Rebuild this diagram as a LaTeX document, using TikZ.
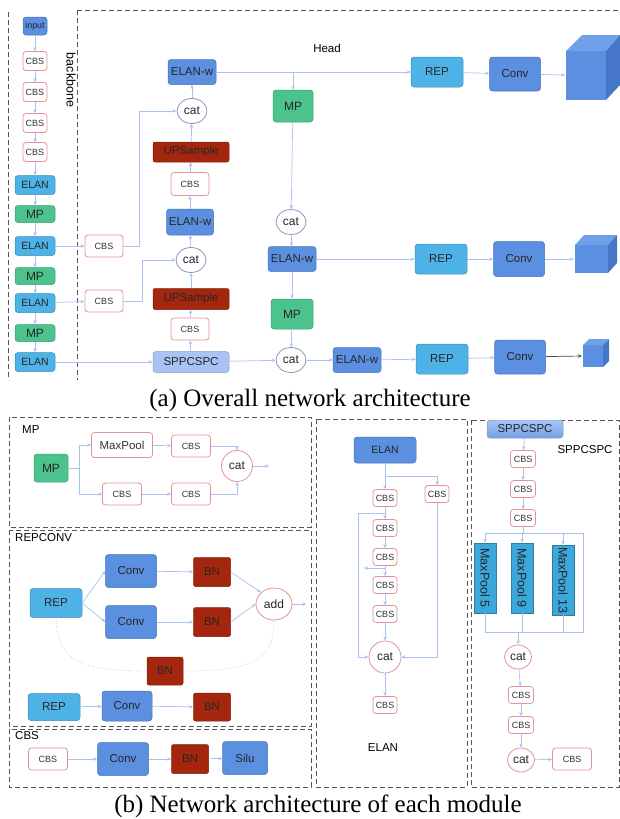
\documentclass[tikz,border=0pt]{standalone}
\usepackage{fontspec}
\setmainfont{Liberation Sans}
\newfontfamily\captionfont{Liberation Serif}
\usetikzlibrary{arrows.meta,shapes.geometric}

\definecolor{conv color}{HTML}{5B8FE0}
\definecolor{elan color}{HTML}{4DB2E6}
\definecolor{mp color}{HTML}{4CC38C}
\definecolor{bn color}{HTML}{A5260F}
\definecolor{cbs color}{HTML}{E8909C}
\definecolor{cat color}{HTML}{8A98B8}
\definecolor{flow color}{HTML}{A8C2F2}
\definecolor{spp color}{HTML}{A9C4F4}
\definecolor{pool color}{HTML}{3BA7DB}
\definecolor{panel color}{HTML}{555555}
\definecolor{cube front}{HTML}{5B8FE0}
\definecolor{cube top}{HTML}{70A0EA}
\definecolor{cube side}{HTML}{4676C8}

\tikzset{
    x={1pt},
    y={-1pt},
    block/.style={
        rectangle, rounded corners={3pt},
        fill={#1}, draw={#1!80!black},
        line width={0.5pt},
        text=black!85,
        font=\fontsize{11.5}{13}\selectfont,
        inner sep=0pt,
    },
    conv box/.style={block=conv color},
    elan box/.style={block=elan color},
    mp box/.style={block=mp color, font=\fontsize{12}{14}\selectfont},
    bn box/.style={block=bn color, rounded corners={2pt}},
    spp box/.style={block=spp color},
    cbs box/.style={
        rectangle, rounded corners={3pt},
        fill=white, draw=cbs color,
        line width={0.8pt},
        text=black!80,
        font=\fontsize{9}{10}\selectfont,
        inner sep=0pt,
    },
    cat node/.style={
        ellipse, fill=white, draw={#1},
        line width={0.8pt},
        text=black!85,
        font=\fontsize{12}{13}\selectfont,
        inner sep=0pt,
    },
    cat node/.default={cat color},
    pool box/.style={
        rectangle, rotate=-90,
        fill=pool color, draw=pool color!75!black,
        line width={0.5pt},
        text=black!85,
        font=\fontsize{12.5}{14}\selectfont,
        inner sep=0pt,
        minimum width={70}, minimum height={22},
    },
    flow/.style={
        draw=flow color,
        line width={0.7pt},
        -{Stealth[length=4pt, width=3.5pt]},
    },
    link/.style={
        draw=flow color,
        line width={0.7pt},
    },
    panel/.style={
        draw=panel color,
        line width={1pt},
        dash pattern=on 5pt off 3pt,
    },
    caption text/.style={
        font=\captionfont\fontsize{25}{30}\selectfont,
        inner sep=0pt,
    },
    title text/.style={
        font=\fontsize{11.5}{13}\selectfont,
        inner sep=0pt,
    },
}

\begin{document}
\begin{tikzpicture}
\useasboundingbox (0,0) rectangle (620,819);
% frames
\draw[panel] (8,12) -- (8,380);
\draw[panel] (77,10) -- (77,380);
\draw[panel] (77,10) -- (620,10);
\draw[panel] (9,417) rectangle (311,527);
\draw[panel] (9,530) rectangle (311,726);
\draw[panel] (9,729) rectangle (311,787);
\draw[panel] (316,419) rectangle (467,787);
\draw[panel] (471,420) rectangle (619,787);
% (a) backbone
\node[conv box, minimum width={24}, minimum height={18}, font=\fontsize{8.8}{10}\selectfont] (in) at (35,26) {input};
\node[cbs box, minimum width={24}, minimum height={19}] (b1) at (35,61) {CBS};
\node[cbs box, minimum width={24}, minimum height={19}] (b2) at (35,92) {CBS};
\node[cbs box, minimum width={24}, minimum height={19}] (b3) at (35,123) {CBS};
\node[cbs box, minimum width={24}, minimum height={19}] (b4) at (35,152) {CBS};
\node[elan box, minimum width={40}, minimum height={19}, font=\fontsize{10.5}{12}\selectfont] (e1) at (35,185) {ELAN};
\node[mp box, minimum width={40}, minimum height={17}] (m1) at (35,214) {MP};
\node[elan box, minimum width={40}, minimum height={19}, font=\fontsize{10.5}{12}\selectfont] (e2) at (35,246) {ELAN};
\node[mp box, minimum width={40}, minimum height={17}] (m2) at (35,276) {MP};
\node[elan box, minimum width={40}, minimum height={19}, font=\fontsize{10.5}{12}\selectfont] (e3) at (35,303) {ELAN};
\node[mp box, minimum width={40}, minimum height={17}] (m3) at (35,333) {MP};
\node[elan box, minimum width={40}, minimum height={19}, font=\fontsize{10.5}{12}\selectfont] (e4) at (35,362) {ELAN};
\node[title text, rotate=-90, font=\fontsize{12.5}{14}\selectfont] (backbone) at (71,80) {backbone};
\node[title text] (head) at (327,48) {Head};
% (a) neck
\node[cbs box, minimum width={38}, minimum height={22}] (s1) at (104,246) {CBS};
\node[cbs box, minimum width={38}, minimum height={22}] (s2) at (104,301) {CBS};
\node[conv box, minimum width={48}, minimum height={25}] (n-elanw1) at (192,72) {ELAN-w};
\node[cat node, minimum width={30}, minimum height={25}] (n-cat1) at (192,111) {cat};
\node[bn box, minimum width={76}, minimum height={20}] (n-up1) at (191,152) {UPSample};
\node[cbs box, minimum width={38}, minimum height={23}] (n-cbs1) at (190,184) {CBS};
\node[conv box, minimum width={47}, minimum height={26}] (n-elanw2) at (190,222) {ELAN-w};
\node[cat node, minimum width={30}, minimum height={25}] (n-cat2) at (191,260) {cat};
\node[bn box, minimum width={76}, minimum height={21}] (n-up2) at (191,299) {UPSample};
\node[cbs box, minimum width={38}, minimum height={22}] (n-cbs2) at (190,329) {CBS};
\node[spp box, minimum width={76}, minimum height={21}] (spp) at (191,362) {SPPCSPC};
% (a) head
\node[mp box, minimum width={40}, minimum height={32}] (h-mp1) at (293,106) {MP};
\node[cat node, minimum width={30}, minimum height={25}] (h-cat1) at (291,222) {cat};
\node[conv box, minimum width={48}, minimum height={25}] (h-elanw1) at (292,259) {ELAN-w};
\node[mp box, minimum width={42}, minimum height={30}] (h-mp2) at (292,314) {MP};
\node[cat node, minimum width={30}, minimum height={25}] (h-cat2) at (291,360) {cat};
\node[conv box, minimum width={48}, minimum height={25}] (h-elanw2) at (357,360) {ELAN-w};
\node[elan box, minimum width={52}, minimum height={30}] (rep1) at (437,72) {REP};
\node[conv box, minimum width={51}, minimum height={34}] (conv1) at (515,74) {Conv};
\node[elan box, minimum width={52}, minimum height={30}] (rep2) at (441,259) {REP};
\node[conv box, minimum width={51}, minimum height={35}] (conv2) at (519,259) {Conv};
\node[elan box, minimum width={52}, minimum height={30}] (rep3) at (442,359) {REP};
\node[conv box, minimum width={51}, minimum height={34}] (conv3) at (520,357) {Conv};
% cubes
\path[fill=cube front] (566,51) rectangle (606,100);
\path[fill=cube top] (566,51) -- (582,35) -- (620,35) -- (606,51) -- cycle;
\path[fill=cube side] (606,51) -- (620,35) -- (620,85) -- (606,100) -- cycle;
\coordinate (cube1) at (565,75);
\path[fill=cube front] (575,245) rectangle (608,273);
\path[fill=cube top] (575,245) -- (584,235) -- (617,235) -- (608,245) -- cycle;
\path[fill=cube side] (608,245) -- (617,235) -- (617,263) -- (608,273) -- cycle;
\coordinate (cube2) at (574,259);
\path[fill=cube front] (583,345) rectangle (603,367);
\path[fill=cube top] (583,345) -- (589,339) -- (609,339) -- (603,345) -- cycle;
\path[fill=cube side] (603,345) -- (609,339) -- (609,361) -- (603,367) -- cycle;
\coordinate (cube3) at (582,356);
% (a) connectors
\draw[flow] (in) -- (b1);
\draw[flow] (b1) -- (b2);
\draw[flow] (b2) -- (b3);
\draw[flow] (b3) -- (b4);
\draw[flow] (b4) -- (e1);
\draw[flow] (e1) -- (m1);
\draw[flow] (m1) -- (e2);
\draw[flow] (e2) -- (m2);
\draw[flow] (m2) -- (e3);
\draw[flow] (e3) -- (m3);
\draw[flow] (m3) -- (e4);
\draw[flow] (e2) -- (s1);
\draw[flow] (e3) -- (s2);
\draw[flow] (s1.east) -- ++(16,0) |- (n-cat1.west);
\draw[flow] (s2.east) -- ++(19,0) |- (n-cat2.west);
\draw[flow] (e4) -- (spp);
\draw[flow] (spp) -- (n-cbs2);
\draw[flow] (n-cbs2) -- (n-up2);
\draw[flow] (n-up2) -- (n-cat2);
\draw[flow] (n-cat2) -- (n-elanw2);
\draw[flow] (n-elanw2) -- (n-cbs1);
\draw[flow] (n-cbs1) -- (n-up1);
\draw[flow] (n-up1) -- (n-cat1);
\draw[flow] (n-cat1) -- (n-elanw1);
\draw[flow] (n-elanw1) -- (rep1);
\draw[flow] (h-mp1.north |- n-elanw1.east) -- (h-mp1.north);
\draw[flow] (h-mp1) -- (h-cat1);
\draw[flow] (h-cat1) -- (h-elanw1);
\draw[flow] (h-elanw1) -- (rep2);
\draw[flow] (h-elanw1) -- (h-mp2);
\draw[flow] (h-mp2) -- (h-cat2);
\draw[flow] (spp) -- (h-cat2);
\draw[flow] (h-cat2) -- (h-elanw2);
\draw[flow] (h-elanw2) -- (rep3);
\draw[flow] (rep1) -- (conv1);
\draw[flow] (rep2) -- (conv2);
\draw[flow] (rep3) -- (conv3);
\draw[flow] (conv1) -- (cube1);
\draw[flow] (conv2) -- (cube2);
\draw[flow, draw=black!70] (conv3) -- (cube3);
\node[caption text] (cap-a) at (310,400) {(a) Overall network architecture};
% (b) MP
\node[title text, anchor=west] (mp-title) at (22,430) {MP};
\node[mp box, minimum width={34}, minimum height={28}] (mp-in) at (51,468) {MP};
\node[cbs box, minimum width={61}, minimum height={25}, font=\fontsize{11.5}{13}\selectfont] (mp-pool) at (122,445) {MaxPool};
\node[cbs box, minimum width={39}, minimum height={22}] (mp-c1) at (191,446) {CBS};
\node[cbs box, minimum width={39}, minimum height={22}] (mp-c2) at (122,494) {CBS};
\node[cbs box, minimum width={39}, minimum height={22}] (mp-c3) at (191,494) {CBS};
\node[cat node=cbs color, minimum width={31}, minimum height={31}] (mp-cat) at (237,466) {cat};
\draw[link] (mp-in.east) -- ++(11,0) coordinate (mp-fork);
\draw[flow] (mp-fork) |- (mp-pool.west);
\draw[flow] (mp-fork) |- (mp-c2.west);
\draw[flow] (mp-pool) -- (mp-c1);
\draw[flow] (mp-c2) -- (mp-c3);
\draw[flow] (mp-c1.east) -| (mp-cat.north);
\draw[flow] (mp-c3.east) -| (mp-cat.south);
\draw[flow] (mp-cat.east) -- ++(16,0);
% (b) REPCONV
\node[title text, anchor=west] (rc-title) at (15,538) {REPCONV};
\node[elan box, minimum width={52}, minimum height={29}] (rc-rep) at (56,603) {REP};
\node[conv box, minimum width={51}, minimum height={33}] (rc-conv1) at (131,571) {Conv};
\node[bn box, minimum width={37}, minimum height={29}] (rc-bn1) at (212,572) {BN};
\node[conv box, minimum width={51}, minimum height={33}] (rc-conv2) at (131,622) {Conv};
\node[bn box, minimum width={37}, minimum height={29}] (rc-bn2) at (212,622) {BN};
\node[cat node=cbs color, minimum width={36}, minimum height={32}] (rc-add) at (274,604) {add};
\node[bn box, minimum width={36}, minimum height={28}] (rc-bn3) at (165,671) {BN};
\draw[link, dotted] (rc-rep.south) .. controls +(0,45) and +(-60,0) .. (rc-bn3.west);
\draw[link, dotted] (rc-bn3.east) .. controls +(70,0) and +(0,40) .. (rc-add.south);
\draw[flow] (rc-rep.east) -- (rc-conv1.west);
\draw[flow] (rc-rep.east) -- (rc-conv2.west);
\draw[flow] (rc-conv1) -- (rc-bn1);
\draw[flow] (rc-conv2) -- (rc-bn2);
\draw[flow] (rc-bn1.east) -- (rc-add.north west);
\draw[flow] (rc-bn2.east) -- (rc-add.west);
\draw[flow] (rc-add.east) -- ++(14,0);
\node[elan box, minimum width={52}, minimum height={27}] (rc-rep2) at (54,707) {REP};
\node[conv box, minimum width={50}, minimum height={30}] (rc-conv3) at (127,706) {Conv};
\node[bn box, minimum width={37}, minimum height={28}] (rc-bn4) at (212,707) {BN};
\draw[flow] (rc-rep2) -- (rc-conv3);
\draw[flow] (rc-conv3) -- (rc-bn4);
% (b) CBS
\node[title text, anchor=west] (cb-title) at (15,736) {CBS};
\node[cbs box, minimum width={39}, minimum height={22}] (cb-in) at (48,759) {CBS};
\node[conv box, minimum width={51}, minimum height={33}] (cb-conv) at (123,759) {Conv};
\node[bn box, minimum width={37}, minimum height={29}] (cb-bn) at (190,759) {BN};
\node[conv box, minimum width={45}, minimum height={33}] (cb-silu) at (245,758) {Silu};
\draw[flow] (cb-in) -- (cb-conv);
\draw[flow] (cb-conv) -- (cb-bn);
\draw[flow] (cb-bn) -- (cb-silu);
% (b) ELAN
\node[conv box, minimum width={62}, minimum height={26}, font=\fontsize{10.5}{12}\selectfont] (el-top) at (385,450) {ELAN};
\node[cbs box, minimum width={24}, minimum height={17}] (el-c1) at (385,498) {CBS};
\node[cbs box, minimum width={24}, minimum height={17}] (el-c2) at (385,528) {CBS};
\node[cbs box, minimum width={24}, minimum height={17}] (el-c3) at (385,557) {CBS};
\node[cbs box, minimum width={24}, minimum height={17}] (el-c4) at (385,585) {CBS};
\node[cbs box, minimum width={24}, minimum height={17}] (el-c5) at (385,614) {CBS};
\node[cbs box, minimum width={24}, minimum height={17}] (el-side) at (437,494) {CBS};
\node[cat node=cbs color, minimum width={32}, minimum height={32}] (el-cat) at (385,657) {cat};
\node[cbs box, minimum width={24}, minimum height={17}] (el-out) at (385,705) {CBS};
\node[title text] (el-title) at (383,748) {ELAN};
\coordinate (el-fork) at (385,476);
\coordinate (el-tap1) at (385,513);
\coordinate (el-tap2) at (385,568);
\draw[flow] (el-top) -- (el-c1);
\draw[flow] (el-fork) -| (el-side.north);
\draw[flow] (el-c1) -- (el-c2);
\draw[flow] (el-c2) -- (el-c3);
\draw[flow] (el-c3) -- (el-c4);
\draw[flow] (el-c4) -- (el-c5);
\draw[flow] (el-c5) -- (el-cat);
\draw[flow] (el-cat) -- (el-out);
\draw[flow] (el-tap1) -- ++(-27,0) |- (el-cat.west);
\draw[flow] (el-tap2) -- ++(-21,0);
\draw[flow] (el-side.south) |- (el-cat.east);
% (b) SPPCSPC
\node[spp box, minimum width={76}, minimum height={18}, top color=spp color, bottom color=conv color!85] (sp-top) at (525,429) {SPPCSPC};
\node[title text] (sp-title) at (585,450) {SPPCSPC};
\node[cbs box, minimum width={25}, minimum height={17}] (sp-c1) at (523,459) {CBS};
\node[cbs box, minimum width={25}, minimum height={17}] (sp-c2) at (523,489) {CBS};
\node[cbs box, minimum width={25}, minimum height={17}] (sp-c3) at (523,518) {CBS};
\node[pool box] (sp-p5) at (485,578) {MaxPool 5};
\node[pool box] (sp-p9) at (522,578) {MaxPool 9};
\node[pool box] (sp-p13) at (563,580) {MaxPool 13};
\node[cat node=cbs color, minimum width={27}, minimum height={24}] (sp-cat1) at (518,657) {cat};
\node[cbs box, minimum width={25}, minimum height={17}] (sp-c4) at (521,695) {CBS};
\node[cbs box, minimum width={25}, minimum height={17}] (sp-c5) at (521,725) {CBS};
\node[cat node=cbs color, minimum width={27}, minimum height={24}] (sp-cat2) at (521,760) {cat};
\node[cbs box, minimum width={39}, minimum height={22}] (sp-out) at (572,759) {CBS};
\coordinate (sp-fork) at (523,533);
\coordinate (sp-join) at (518,632);
\draw[flow] (sp-top) -- (sp-c1);
\draw[flow] (sp-c1) -- (sp-c2);
\draw[flow] (sp-c2) -- (sp-c3);
\draw[link] (sp-c3) -- (sp-fork);
\draw[flow] (sp-fork) -| (sp-p5.west);
\draw[flow] (sp-fork) -| (sp-p9.west);
\draw[flow] (sp-fork) -| (sp-p13.west);
\draw[link] (sp-p13.west |- sp-fork) -- ++(20,0) |- (sp-join);
\draw[link] (sp-p5.east) |- (sp-join);
\draw[link] (sp-p9.east) |- (sp-join);
\draw[link] (sp-p13.east) |- (sp-join);
\draw[flow] (sp-join) -- (sp-cat1);
\draw[flow] (sp-cat1) -- (sp-c4);
\draw[flow] (sp-c4) -- (sp-c5);
\draw[flow] (sp-c5) -- (sp-cat2);
\draw[flow] (sp-cat2) -- (sp-out);
\node[caption text] (cap-b) at (318,806) {(b) Network architecture of each module};
\end{tikzpicture}
\end{document}
